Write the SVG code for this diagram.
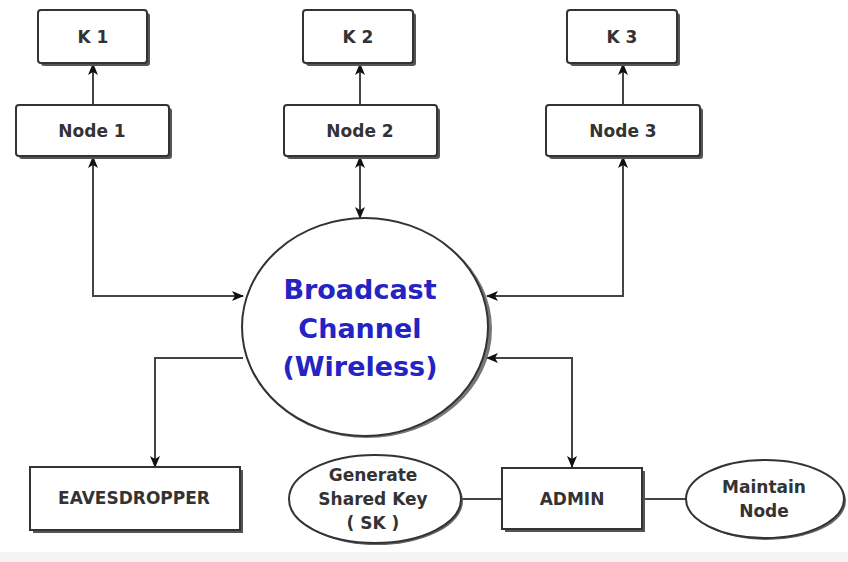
<svg xmlns="http://www.w3.org/2000/svg" width="848" height="562" viewBox="0 0 848 562">
<defs>
<marker id="ah" viewBox="0 0 12 10" refX="11" refY="5" markerWidth="12" markerHeight="10" markerUnits="userSpaceOnUse" orient="auto-start-reverse">
<path d="M0,0 L12,5 L0,10 L3,5 Z" fill="#111"/>
</marker>
</defs>
<style>
.box{fill:#fff;stroke:#333;stroke-width:2}
.sh{fill:#555;stroke:none}
.ell{fill:#fff;stroke:#333;stroke-width:2}
.t{font-family:"DejaVu Sans",Verdana,sans-serif;font-weight:bold;font-size:17px;fill:#333;text-anchor:middle;dominant-baseline:central}
.bt{font-family:"DejaVu Sans",Verdana,sans-serif;font-weight:bold;font-size:27px;fill:#2424c4;text-anchor:middle;dominant-baseline:central}
.c{fill:none;stroke:#444;stroke-width:2}
</style>
<rect x="0" y="0" width="848" height="562" fill="#fff"/>
<rect x="0" y="552" width="848" height="10" fill="#f4f4f4"/>
<g id="connectors">
<path class="c" d="M93,105 L93,64" marker-end="url(#ah)"/>
<path class="c" d="M360,105 L360,64" marker-end="url(#ah)"/>
<path class="c" d="M623,105 L623,64" marker-end="url(#ah)"/>
<path class="c" d="M93,157 L93,296 L243,296" marker-start="url(#ah)" marker-end="url(#ah)"/>
<path class="c" d="M360,157 L360,218" marker-start="url(#ah)" marker-end="url(#ah)"/>
<path class="c" d="M623,157 L623,296 L487,296" marker-start="url(#ah)" marker-end="url(#ah)"/>
<path class="c" d="M243,358 L155,358 L155,467" marker-end="url(#ah)"/>
<path class="c" d="M487,358 L572,358 L572,467" marker-start="url(#ah)" marker-end="url(#ah)"/>
<path class="c" d="M462,499 L502,499"/>
<path class="c" d="M642,499 L686,499"/>
</g>
<g id="k1"><rect class="sh" x="41" y="13" width="109" height="53" rx="3"/><rect class="box" x="38" y="10" width="109" height="53" rx="3"/><text class="t" x="93" y="37">K 1</text></g>
<g id="k2"><rect class="sh" x="306" y="13" width="110" height="53" rx="3"/><rect class="box" x="303" y="10" width="110" height="53" rx="3"/><text class="t" x="358" y="37">K 2</text></g>
<g id="k3"><rect class="sh" x="570" y="13" width="110" height="53" rx="3"/><rect class="box" x="567" y="10" width="110" height="53" rx="3"/><text class="t" x="622" y="37">K 3</text></g>
<g id="node1"><rect class="sh" x="19" y="108" width="153" height="51" rx="3"/><rect class="box" x="16" y="105" width="153" height="51" rx="3"/><text class="t" x="92" y="131">Node 1</text></g>
<g id="node2"><rect class="sh" x="287" y="108" width="153" height="51" rx="3"/><rect class="box" x="284" y="105" width="153" height="51" rx="3"/><text class="t" x="360" y="131">Node 2</text></g>
<g id="node3"><rect class="sh" x="549" y="108" width="154" height="51" rx="3"/><rect class="box" x="546" y="105" width="154" height="51" rx="3"/><text class="t" x="623" y="131">Node 3</text></g>
<g id="channel">
<ellipse cx="367" cy="329" rx="125" ry="109" fill="#777"/>
<ellipse class="ell" cx="365" cy="327" rx="123" ry="109"/>
<text class="bt" x="360" y="289">Broadcast</text>
<text class="bt" x="360" y="328">Channel</text>
<text class="bt" x="360" y="366">(Wireless)</text>
</g>
<g id="eavesdropper"><rect class="sh" x="33" y="470" width="210" height="63"/><rect class="box" x="30" y="467" width="210" height="63"/><text class="t" x="134" y="498">EAVESDROPPER</text></g>
<g id="admin"><rect class="sh" x="505" y="471" width="140" height="61"/><rect class="box" x="502" y="468" width="140" height="61"/><text class="t" x="572" y="499">ADMIN</text></g>
<g id="sk">
<ellipse cx="377" cy="501" rx="86" ry="44" fill="#666"/>
<ellipse class="ell" cx="375" cy="499" rx="86" ry="44"/>
<text class="t" x="373" y="475">Generate</text>
<text class="t" x="373" y="499">Shared Key</text>
<text class="t" x="373" y="523">( SK )</text>
</g>
<g id="maintain">
<ellipse cx="767" cy="501" rx="79" ry="39" fill="#666"/>
<ellipse class="ell" cx="765" cy="499" rx="79" ry="39"/>
<text class="t" x="764" y="487">Maintain</text>
<text class="t" x="764" y="511">Node</text>
</g>
</svg>
